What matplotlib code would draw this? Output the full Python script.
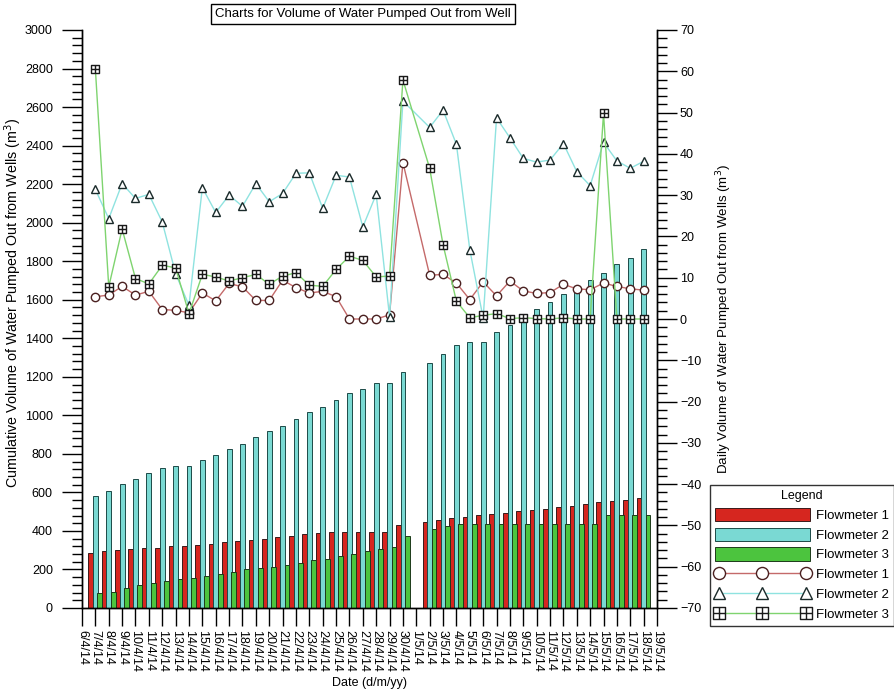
import matplotlib
matplotlib.use("Agg")
import matplotlib.pyplot as plt
import numpy as np
from matplotlib.path import Path
from matplotlib.ticker import MultipleLocator

plt.rcParams['font.family'] = ['Liberation Sans', 'DejaVu Sans']
plt.rcParams['font.size'] = 9

# tick labels along the date axis
dates = ([f"{d}/4/14" for d in range(6, 31)] +
         [f"{d}/5/14" for d in range(1, 20)])
# days with readings (no reading on 6/4, 1/5 and 19/5)
days = dates[1:25] + dates[26:43]

# cumulative volume, m3
cum_fm1 = [287, 295, 299, 304, 314, 314, 321, 321, 325, 330, 342, 347, 351, 356, 368, 373,
           383, 390, 397, 397, 397, 397, 397, 432,
           446, 455, 467, 472, 481, 486, 494, 503, 510, 515, 524, 529, 541, 548, 557, 562, 570]
cum_fm2 = [581, 609, 643, 667, 699, 725, 739, 739, 768, 796, 827, 853, 887, 917, 943, 983,
           1019, 1045, 1080, 1116, 1139, 1168, 1170, 1225,
           1274, 1320, 1364, 1381, 1381, 1430, 1471, 1511, 1551, 1589, 1632, 1667, 1701, 1741,
           1783, 1817, 1862]
cum_fm3 = [79, 84, 105, 119, 129, 138, 151, 155, 165, 178, 186, 200, 207, 212, 224, 233,
           247, 252, 268, 281, 295, 305, 316, 373,
           411, 425, 434, 434, 434, 437, 437, 437, 437, 437, 437, 437, 437, 484, 484, 484, 484]

# daily volume, m3
day_fm1 = [5.4, 5.8, 7.9, 5.8, 6.7, 2.3, 2.1, 1.5, 6.3, 4.4, 8.6, 7.8, 4.5, 4.5, 9.4, 7.6,
           6.3, 6.7, 5.4, 0, 0, 0, 1.0, 37.9,
           10.6, 10.8, 8.7, 4.7, 9.0, 5.6, 9.2, 6.8, 6.2, 6.4, 8.4, 7.3, 7.1, 8.7, 7.9, 7.3, 7.0]
day_fm2 = [31.4, 24.3, 32.8, 29.2, 30.2, 23.5, 11.0, 3.3, 31.8, 25.8, 30.0, 27.3, 32.8, 28.4,
           30.4, 35.3, 35.4, 26.8, 34.8, 34.4, 22.3, 30.2, 0.5, 52.8,
           46.4, 50.6, 42.3, 16.8, 0.2, 48.7, 43.9, 38.9, 38.0, 38.5, 42.5, 35.7, 32.3, 42.8,
           38.3, 36.5, 38.2]
day_fm3 = [60.5, 7.8, 21.8, 9.8, 8.5, 13.0, 12.4, 1.3, 10.8, 10.2, 9.2, 10.0, 10.8, 8.4, 10.4,
           11.2, 8.2, 7.9, 12.0, 15.2, 14.2, 10.2, 10.4, 57.9,
           36.5, 18.0, 4.3, 0.3, 0.9, 1.3, 0.1, 0.3, 0.1, 0, 0.3, 0, 0, 49.8, 0, 0, 0]

red = '#d6261f'
cyan = '#7ad9d3'
green = '#4cc43e'

x = np.array([dates.index(d) for d in days])

# square with a cross inside
sq_cross = Path([(-1, -1), (1, -1), (1, 1), (-1, 1), (-1, -1),
                 (0, -1), (0, 1), (-1, 0), (1, 0)],
                [Path.MOVETO, Path.LINETO, Path.LINETO, Path.LINETO, Path.CLOSEPOLY,
                 Path.MOVETO, Path.LINETO, Path.MOVETO, Path.LINETO])

fig = plt.figure(figsize=(8.94, 6.92), dpi=100)
ax = fig.add_axes([82 / 894, 1 - 608 / 692, 575 / 894, 578 / 692])
ax2 = ax.twinx()

w = 0.36
b1 = ax.bar(x - 0.35, cum_fm1, w, color=red, edgecolor='#3a1a1a', linewidth=0.7)
b2 = ax.bar(x, cum_fm2, w, color=cyan, edgecolor='#1d4a48', linewidth=0.7)
b3 = ax.bar(x + 0.33, cum_fm3, w, color=green, edgecolor='#1d3a1a', linewidth=0.7)

l1, = ax2.plot(x, day_fm1, '-', color='#c46a6a', lw=1, marker='o', ms=6,
               mfc='white', mec='#4a2020', mew=1)
l2, = ax2.plot(x, day_fm2, '-', color='#8fe3e0', lw=1, marker='^', ms=6,
               mfc='white', mec='#1a2a2a', mew=1)
l3, = ax2.plot(x, day_fm3, '-', color='#7fd46f', lw=1, marker=sq_cross, ms=6.3,
               mfc='white', mec='#1a1a1a', mew=1)

ax.set_xlim(0, len(dates) - 1)
ax.set_ylim(0, 3000)
ax2.set_ylim(-70, 70)

ax.set_xticks(range(len(dates)))
ax.set_xticklabels(dates, rotation=-90, va='top', ha='center')
ax.tick_params(axis='x', direction='out', length=13, width=1, pad=3)

ax.yaxis.set_major_locator(MultipleLocator(200))
ax.yaxis.set_minor_locator(MultipleLocator(40))
ax2.yaxis.set_major_locator(MultipleLocator(10))
ax2.yaxis.set_minor_locator(MultipleLocator(2))
ax.tick_params(axis='y', which='major', direction='out', length=14.5, width=1, pad=6.5)
ax.tick_params(axis='y', which='minor', direction='out', length=7, width=1)
ax2.tick_params(axis='y', which='major', direction='out', length=14.5, width=1, pad=2)
ax2.tick_params(axis='y', which='minor', direction='out', length=7, width=1)

for a in (ax, ax2):
    a.spines['top'].set_visible(False)
    for s in a.spines.values():
        s.set_linewidth(1)

ax.set_xlabel('Date (d/m/yy)')
ax.xaxis.set_label_coords(0.5, -0.12)
ax.set_ylabel('Cumulative Volume of Water Pumped Out from Wells (m$^3$)', fontsize=10.3)
ax.yaxis.set_label_coords(-0.1, 0.527)
ax2.set_ylabel('Daily Volume of Water Pumped Out from Wells (m$^3$)', fontsize=9.6)
ax2.yaxis.set_label_coords(1.1, 0.5)

fig.text(363 / 894, 1 - 14 / 692, 'Charts for Volume of Water Pumped Out from Well',
         ha='center', va='center', fontsize=9.5,
         bbox=dict(boxstyle='square,pad=0.3', fc='white', ec='black', lw=1))

leg = fig.legend([b1, b2, b3, l1, l2, l3],
                 ['Flowmeter 1', 'Flowmeter 2', 'Flowmeter 3',
                  'Flowmeter 1', 'Flowmeter 2', 'Flowmeter 3'],
                 title='Legend', loc='upper left', bbox_to_anchor=(710 / 894, 1 - 485 / 692),
                 fontsize=9.5, title_fontsize=9, frameon=True, fancybox=False,
                 edgecolor='black', handlelength=7.2, handleheight=1.15, numpoints=3,
                 markerscale=1.45, labelspacing=0.45, handletextpad=0.5, borderpad=0.35,
                 borderaxespad=0)
leg.get_frame().set_linewidth(1)

fig.savefig('out.png', dpi=100)
